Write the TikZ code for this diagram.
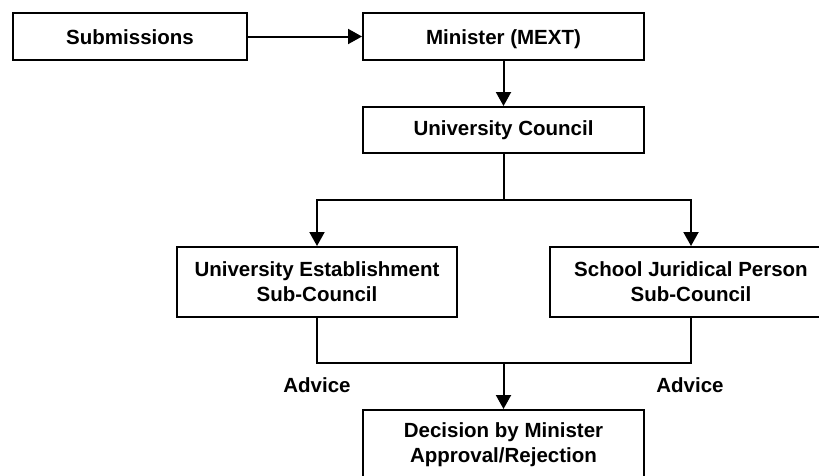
\documentclass[tikz,border=0pt]{standalone}
\usepackage{fontspec}
\setmainfont{Liberation Sans}
\usetikzlibrary{arrows.meta}
\begin{document}
\begin{tikzpicture}[x=1pt,y=-1pt,
  box/.style={draw, line width=2pt, rectangle, inner sep=0pt, align=center,
    font=\fontsize{20.5}{25}\selectfont\bfseries},
  oneline/.style={text height=15pt, text depth=0pt},
  lab/.style={font=\fontsize{20.5}{25}\selectfont\bfseries, inner sep=0pt},
  arr/.style={line width=2pt, -{Triangle[width=15pt,length=14pt]}},
  ln/.style={line width=2pt}]
\useasboundingbox (0,0) rectangle (819,475);
\clip (0,0) rectangle (819,475);
\node[box, oneline, minimum width=234pt, minimum height=47pt] (sub) at (130,36.5) {Submissions};
\node[box, oneline, minimum width=281pt, minimum height=47pt] (min) at (503.5,36.5) {Minister (MEXT)};
\node[box, minimum width=281pt, minimum height=46pt] (uc) at (503.5,130) {University Council};
\node[box, minimum width=280pt, minimum height=70pt] (ues) at (317,282) {University Establishment\\Sub-Council};
\node[box, minimum width=282pt, minimum height=70pt] (sjp) at (691,282) {School Juridical Person\\Sub-Council};
\node[box, minimum width=281pt, minimum height=70pt] (dec) at (503.5,445) {Decision by Minister\\Approval/Rejection};
\node[lab] (adv1) at (317,385) {Advice};
\node[lab] (adv2) at (690,385) {Advice};
\coordinate (j1) at (503.5,200);
\coordinate (j2) at (503.5,363);
\draw[arr] (sub) -- (min);
\draw[arr] (min) -- (uc);
\draw[ln] (uc.south) -- (j1);
\draw[arr] (j1) -| (ues.north);
\draw[arr] (j1) -| (sjp.north);
\draw[ln] (ues.south) |- (j2);
\draw[ln] (sjp.south) |- (j2);
\draw[arr] (j2) -- (dec.north);
\end{tikzpicture}
\end{document}
